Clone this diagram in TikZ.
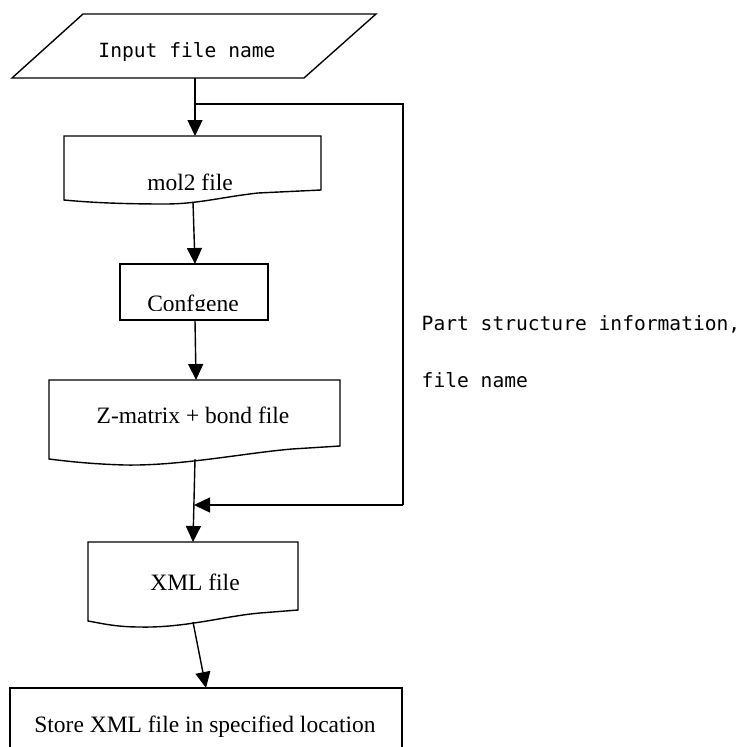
\documentclass[tikz,border=0pt]{standalone}
\usepackage{fontspec}
\setmainfont{Liberation Serif}
\newfontfamily\monofnt{DejaVu Sans Mono}
\usetikzlibrary{arrows.meta}
\begin{document}
\begin{tikzpicture}[x=1pt,y=-1pt,
  line width=1.4pt,
  shp/.style={draw=black, line width=1.4pt, line join=miter},
  arr/.style={-{Triangle[length=16pt,width=15pt]}},
  serif/.style={font=\fontsize{23.5}{26}\selectfont, inner sep=0pt, anchor=base},
  mono/.style={font=\monofnt\fontsize{19.6}{22}\selectfont, inner sep=0pt}]
\useasboundingbox (0,0) rectangle (747,747);
\fill[white] (0,0) rectangle (747,747);

% Input parallelogram
\draw[shp] (83,14) -- (376,14) -- (304,78) -- (12,78) -- cycle;
\node[mono, anchor=base] (inp) at (187,57) {Input file name};
\coordinate (inpbot) at (195,78);

% mol2 document
\draw[shp] (64,136) -- (321,136) -- (321,190) -- (258,193)
  .. controls (222,197) and (198,204) .. (165,204)
  .. controls (115,204) and (85,202) .. (64,200) -- cycle;
\node[serif] (mol) at (190,190) {mol2 file};
\coordinate (moltop) at (195,136);
\coordinate (molbot) at (193,202);

% Confgene
\draw[shp] (120,264) rectangle (268,320);
\begin{scope}
  \clip (120,264) rectangle (268,310.5);
  \node[serif] (conf) at (193,311) {Confgene};
\end{scope}
\coordinate (conftop) at (195,264);
\coordinate (confbot) at (195,320);

% Z-matrix document
\draw[shp] (49,380) -- (340,380) -- (340,446) -- (292,449)
  .. controls (245,453) and (180,466) .. (125,465)
  .. controls (90,464) and (65,461) .. (49,459) -- cycle;
\node[serif] (zm) at (193,423) {Z-matrix + bond file};
\coordinate (zmtop) at (196,380);
\coordinate (zmbot) at (195,459);

% XML document
\draw[shp] (88,542) -- (298,542) -- (298,610) -- (260,613)
  .. controls (225,616) and (185,628) .. (140,627)
  .. controls (115,627) and (100,623) .. (88,621) -- cycle;
\node[serif] (xml) at (195,590) {XML file};
\coordinate (xmltop) at (193,542);
\coordinate (xmlbot) at (193,622);

% Store
\draw[shp] (10,760) -- (10,688) -- (402,688) -- (402,760);
\node[serif] (store) at (205,732) {Store XML file in specified location};
\coordinate (storetop) at (206,688);

% side label
\node[mono, anchor=base west] (part) at (421,330) {Part structure information,};
\node[mono, anchor=base west] (fname) at (421,387) {file name};

% connectors
\coordinate (br) at (195,104);
\coordinate (c1) at (403,104);
\coordinate (c2) at (403,505);
\coordinate (join) at (194,505);
\draw[arr] (inpbot) -- (moltop);
\draw (br) -- (c1) -- (c2);
\draw[arr] (c2) -- (join);
\draw[arr] (molbot) -- (conftop);
\draw[arr] (confbot) -- (zmtop);
\draw[arr] (zmbot) -- (xmltop);
\draw[arr] (xmlbot) -- (storetop);
\end{tikzpicture}
\end{document}
